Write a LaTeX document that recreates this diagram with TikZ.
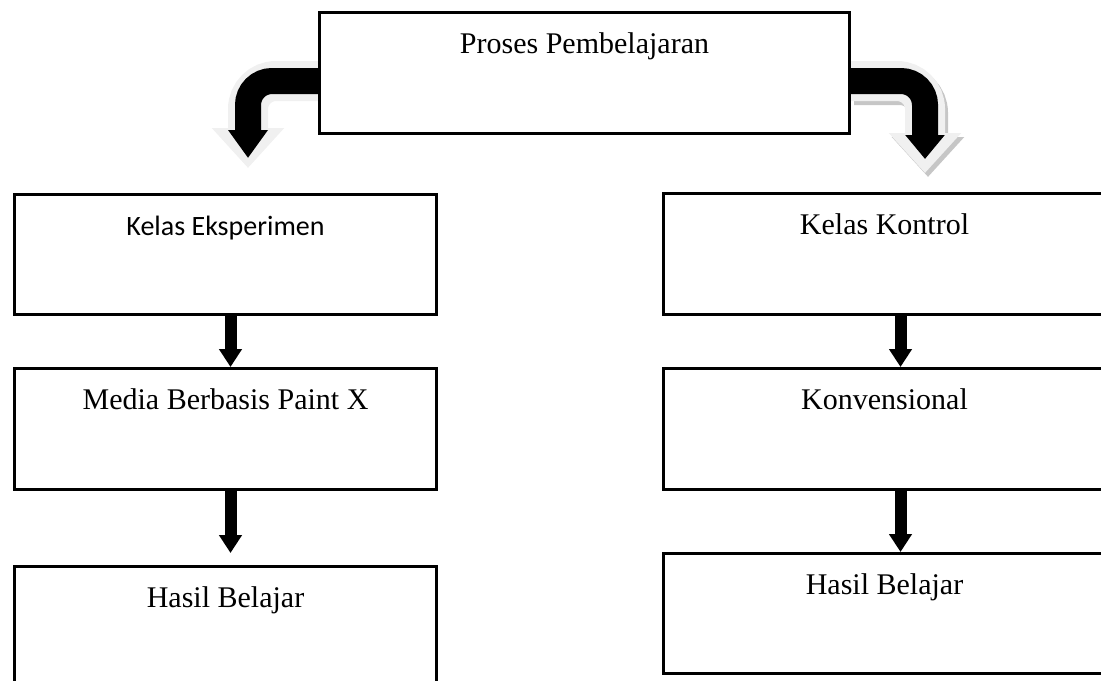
\documentclass[tikz,border=0pt]{standalone}
\usepackage{fontspec}
\setmainfont{Liberation Serif}
\newfontfamily\calibrifont{Carlito}
\usetikzlibrary{arrows.meta}
\pgfdeclarelayer{bg}
\pgfsetlayers{bg,main}

\tikzset{
  kotak/.style={draw,line width=1.5pt,fill=white,inner sep=0pt,anchor=north west,
    text height=20.5pt,text depth=#1,font=\fontsize{15}{18}\selectfont},
  panah/.style={-{Triangle[width=11pt,length=9pt]},line width=6pt},
}

\begin{document}
\begin{tikzpicture}[x=0.5pt,y=-0.5pt]
\useasboundingbox (0,0) rectangle (1101,680);

% ---------------- top box ----------------
\node[kotak=40pt,minimum width=265pt] (proses) at (318,11) {Proses Pembelajaran};

% ---------------- left column ----------------
\node[kotak=39.5pt,minimum width=211pt,font=\calibrifont\fontsize{14}{17}\selectfont] (eksp) at (13,193) {Kelas Eksperimen};
\node[kotak=40pt,minimum width=211pt] (media) at (13,367) {Media Berbasis Paint X};
\node[kotak=49.5pt,minimum width=211pt] (hasilA) at (13,565) {Hasil Belajar};

% ---------------- right column ----------------
\node[kotak=40pt,minimum width=221pt] (kontrol) at (662,192) {Kelas Kontrol};
\node[kotak=40pt,minimum width=221pt] (konv) at (662,367) {Konvensional};
\node[kotak=39.5pt,minimum width=221pt] (hasilB) at (662,552) {Hasil Belajar};

% ---------------- curved arrows from the top box ----------------
\begin{pgfonlayer}{bg}
\draw[gray!12,line width=20pt,rounded corners=14pt,-{Triangle[width=35pt,length=20pt]}]
  ([yshift=-4pt]proses.west) -- ++(-70,0) -- ++(0,87);
\draw[line width=13pt,rounded corners=12pt,-{Triangle[width=19pt,length=14pt]}]
  ([yshift=-4pt]proses.west) -- ++(-70,0) -- ++(0,77);
% right one has a shadow
\draw[gray!45,line width=20pt,rounded corners=14pt,-{Triangle[width=35pt,length=20pt]}]
  ([xshift=1.5pt,yshift=-6pt]proses.east) -- ++(74,0) -- ++(0,92);
\draw[gray!12,line width=20pt,rounded corners=14pt,-{Triangle[width=35pt,length=20pt]}]
  ([yshift=-4pt]proses.east) -- ++(74,0) -- ++(0,92);
\draw[line width=13pt,rounded corners=12pt,-{Triangle[width=19pt,length=12pt]}]
  ([yshift=-4pt]proses.east) -- ++(74,0) -- ++(0,78);
\end{pgfonlayer}

% ---------------- straight arrows ----------------
\draw[panah] ([xshift=2.5pt]eksp.south) -- ([xshift=2.5pt]media.north);
\draw[panah,shorten >=6pt] ([xshift=2.5pt]media.south) -- ([xshift=2.5pt]hasilA.north);
\draw[panah] ([xshift=8pt]kontrol.south) -- ([xshift=8pt]konv.north);
\draw[panah] ([xshift=8pt]konv.south) -- ([xshift=8pt]hasilB.north);
\end{tikzpicture}
\end{document}
